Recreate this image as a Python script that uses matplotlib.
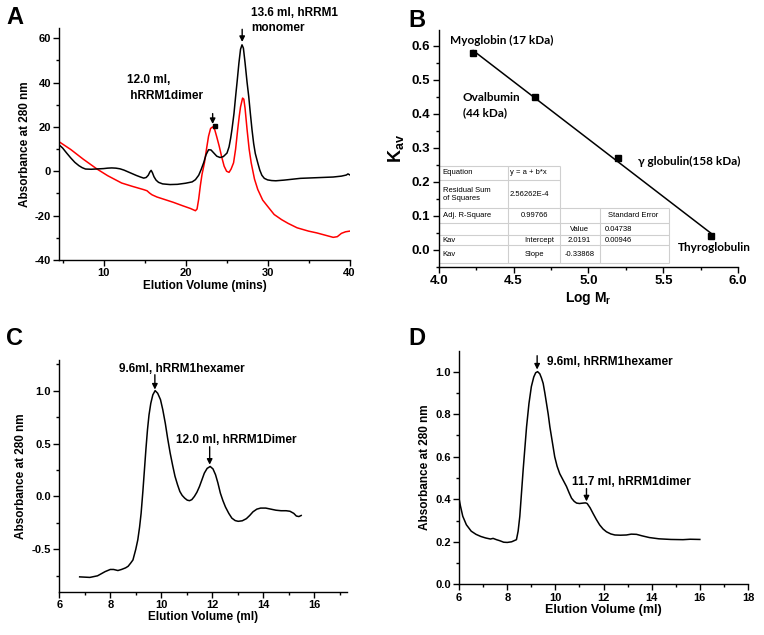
import matplotlib.pyplot as plt
from matplotlib.ticker import MultipleLocator

plt.rcParams['font.family'] = ['Liberation Sans', 'DejaVu Sans']
plt.rcParams['font.weight'] = 'bold'
plt.rcParams['axes.labelweight'] = 'bold'
plt.rcParams['axes.linewidth'] = 1.0
plt.rcParams['axes.unicode_minus'] = False
plt.rcParams['mathtext.fontset'] = 'custom'
plt.rcParams['mathtext.rm'] = 'Liberation Sans:bold'
plt.rcParams['mathtext.bf'] = 'Liberation Sans:bold'
plt.rcParams['mathtext.it'] = 'Liberation Sans:bold'

# --- panel A: two chromatograms (minutes)
a_black_x = [4.7, 5.0, 5.5, 6.0, 6.5, 7.0, 7.4, 7.8, 8.5, 9.0, 10.0, 10.5, 11.0, 11.5,
             12.0, 12.5, 13.0, 13.5, 14.0, 14.5, 14.9, 15.2, 15.45, 15.65, 15.8, 15.95,
             16.15, 16.4, 16.7, 17.2, 18.1, 19.0, 20.0, 20.8, 21.2, 21.6, 21.9, 22.2,
             22.5, 22.8, 23.1, 23.4, 23.8, 24.2, 24.6, 25.05, 25.3, 25.5, 25.65, 25.9,
             26.1, 26.3, 26.5, 26.7, 26.88, 27.05, 27.25, 27.5, 27.7, 27.9, 28.1, 28.3,
             28.5, 28.8, 29.05, 29.3, 29.6, 30.0, 30.5, 31.0, 32.0, 34.0, 36.0, 38.0,
             39.0, 39.6, 39.8, 40.0]
a_black_y = [11.5, 10.5, 8.2, 6.0, 4.0, 2.5, 1.6, 1.0, 0.9, 1.0, 1.2, 1.4, 1.5, 1.4,
             1.1, 0.5, -0.3, -1.1, -1.9, -2.6, -3.1, -2.8, -1.8, -0.3, 0.4, -0.6,
             -2.5, -4.0, -5.0, -5.7, -6.0, -5.9, -5.4, -4.8, -3.8, -1.8, 0.8, 3.8,
             7.5, 9.7, 9.6, 8.4, 6.8, 6.2, 6.6, 8.2, 11.0, 15.0, 18.7, 26.0,
             33.7, 41.0, 48.7, 55.0, 57.0, 55.5, 49.0, 40.0, 33.7, 26.0, 18.7, 12.5,
             8.0, 3.8, 0.5, -1.8, -3.2, -3.9, -4.2, -4.3, -4.0, -3.2, -2.9, -2.6,
             -2.2, -1.7, -1.2, -1.6]
a_red_x = [4.7, 6.0, 7.5, 9.2, 10.5, 12.2, 13.5, 14.9, 15.3, 15.6, 15.9, 16.5, 17.5,
           18.5, 19.6, 20.6, 21.2, 21.4, 21.6, 21.8, 22.0, 22.3, 22.55, 22.8, 23.05,
           23.3, 23.55, 23.8, 24.1, 24.4, 24.7, 25.0, 25.3, 25.55, 25.85, 26.1, 26.35,
           26.55, 26.7, 26.95, 27.1, 27.25, 27.5, 27.75, 28.0, 28.4, 28.8, 29.4, 30.0,
           30.8, 31.7, 32.5, 33.6, 35.0, 36.0, 37.0, 38.0, 38.5, 39.0, 39.5, 40.0]
a_red_y = [13.0, 9.8, 5.5, 1.0, -2.0, -5.3, -6.8, -8.3, -8.8, -9.8, -10.6, -11.6, -12.8,
           -14.0, -15.5, -16.8, -17.8, -17.0, -12.5, -6.5, -1.5, 3.8, 10.0, 15.8, 19.3,
           20.0, 18.8, 15.5, 11.3, 6.5, 2.3, 0.0, -0.5, 1.0, 3.8, 10.0, 18.7,
           25.0, 29.0, 33.0, 32.5, 28.5, 18.7, 10.0, 3.8, -3.5, -8.2, -13.0, -15.8,
           -19.5, -21.8, -23.5, -25.5, -27.0, -27.8, -28.8, -29.8, -29.5, -28.0, -27.3, -27.0]

# --- panel B: calibration standards
b_logmr = [4.23, 4.64, 5.20, 5.82]
b_kav = [0.58, 0.45, 0.27, 0.04]
b_names = ['Myoglobin (17 kDa)', 'Ovalbumin\n(44 kDa)', '\u03b3 globulin(158 kDa)', 'Thyroglobulin']
b_intercept = 2.0191
b_slope = -0.33868

# --- panel C
c_x = [6.8, 7.2, 7.5, 7.8, 8.0, 8.13, 8.3, 8.44, 8.6, 8.7, 8.8, 8.89, 9.0, 9.08, 9.15,
       9.21, 9.28, 9.34, 9.40, 9.46, 9.52, 9.59, 9.67, 9.76, 9.86, 9.97, 10.06, 10.16,
       10.25, 10.35, 10.45, 10.54, 10.64, 10.73, 10.82, 10.92, 11.02, 11.11, 11.2, 11.3,
       11.4, 11.5, 11.6, 11.69, 11.8, 11.92, 12.03, 12.13, 12.22, 12.32, 12.42, 12.52,
       12.65, 12.77, 12.9, 13.02, 13.18, 13.34, 13.47, 13.6, 13.75, 13.9, 14.1, 14.3,
       14.5, 14.7, 14.9, 15.05, 15.2, 15.3, 15.4, 15.49]
c_y = [-0.76, -0.765, -0.75, -0.71, -0.69, -0.69, -0.70, -0.69, -0.675, -0.66, -0.63,
       -0.60, -0.50, -0.41, -0.29, -0.16, 0.05, 0.25, 0.45, 0.63, 0.77, 0.88, 0.96, 1.0,
       0.975, 0.915, 0.82, 0.69, 0.55, 0.41, 0.29, 0.19, 0.11, 0.047, 0.01, -0.016,
       -0.035, -0.04, -0.03, 0.0, 0.04, 0.094, 0.16, 0.22, 0.265, 0.283, 0.26, 0.205,
       0.13, 0.031, -0.04, -0.10, -0.16, -0.205, -0.228, -0.235, -0.23, -0.21, -0.18,
       -0.145, -0.12, -0.11, -0.11, -0.12, -0.13, -0.135, -0.135, -0.14, -0.16, -0.185,
       -0.19, -0.18]

# --- panel D
d_x = [6.0, 6.05, 6.15, 6.3, 6.5, 6.7, 6.9, 7.1, 7.3, 7.41, 7.55, 7.69, 7.85, 8.0,
       8.18, 8.28, 8.38, 8.45, 8.52, 8.59, 8.66, 8.73, 8.80, 8.9, 9.0, 9.1, 9.18, 9.26,
       9.35, 9.42, 9.49, 9.56, 9.63, 9.70, 9.77, 9.87, 9.97, 10.07, 10.18, 10.32,
       10.46, 10.57, 10.67, 10.78, 10.88, 11.0, 11.15, 11.25, 11.32, 11.44, 11.56,
       11.7, 11.84, 11.98, 12.12, 12.3, 12.47, 12.7, 12.95, 13.15, 13.37, 13.6, 13.9,
       14.3, 14.8, 15.3, 15.6, 16.0]
d_y = [0.40, 0.37, 0.32, 0.28, 0.25, 0.235, 0.225, 0.218, 0.213, 0.216, 0.21, 0.205,
       0.198, 0.197, 0.20, 0.205, 0.21, 0.25, 0.32, 0.43, 0.54, 0.64, 0.74, 0.85, 0.93,
       0.975, 0.995, 1.0, 0.99, 0.97, 0.945, 0.90, 0.85, 0.80, 0.74, 0.67, 0.60, 0.555,
       0.52, 0.49, 0.46, 0.43, 0.405, 0.39, 0.382, 0.38, 0.382, 0.383, 0.38, 0.36,
       0.334, 0.305, 0.279, 0.26, 0.247, 0.237, 0.232, 0.231, 0.232, 0.236, 0.235,
       0.228, 0.22, 0.214, 0.211, 0.21, 0.212, 0.211]


def style(ax, xmaj, xmin, ymaj, ymin, size):
    ax.spines['top'].set_visible(False)
    ax.spines['right'].set_visible(False)
    ax.xaxis.set_major_locator(MultipleLocator(xmaj))
    ax.xaxis.set_minor_locator(MultipleLocator(xmin))
    ax.yaxis.set_major_locator(MultipleLocator(ymaj))
    ax.yaxis.set_minor_locator(MultipleLocator(ymin))
    ax.tick_params(which='major', direction='out', length=4, width=1, labelsize=size, pad=2)
    ax.tick_params(which='minor', direction='out', length=2.5, width=1)


def arrow(ax, x, y0, y1):
    ax.annotate('', xy=(x, y1), xytext=(x, y0),
                arrowprops=dict(arrowstyle='-|>', color='black', lw=1, mutation_scale=8,
                                shrinkA=0, shrinkB=0))


fig = plt.figure(figsize=(7.64, 6.35), dpi=100)

# A
axA = fig.add_axes([0.0776, 0.5906, 0.380, 0.365])
axA.plot(a_red_x, a_red_y, color='red', lw=1.1)
axA.plot(a_black_x, a_black_y, color='black', lw=1.1)
axA.set_xlim(4.6, 40)
axA.set_ylim(-40, 64.5)
style(axA, 10, 5, 20, 10, 8)
axA.set_xlabel('Elution Volume (mins)', fontsize=8.5, labelpad=1)
axA.set_ylabel('Absorbance at 280 nm', fontsize=8.5, labelpad=3)
arrow(axA, 23.3, 26.0, 21.3)
axA.plot([23.6], [20.5], marker='s', color='black', ms=3.5)
axA.text(12.9, 37.5, '12.0 ml,\n hRRM1dimer', fontsize=8.5, va='center', linespacing=1.4)
arrow(axA, 26.9, 64.0, 58.3)
axA.text(28.0, 68, '13.6 ml, hRRM1\nmonomer', fontsize=8.5, va='center', linespacing=1.3,
         clip_on=False)

# B
axB = fig.add_axes([0.5742, 0.580, 0.392, 0.3728])
fit_x = [b_logmr[0], b_logmr[-1]]
fit_y = [b_intercept + b_slope * v for v in fit_x]
axB.plot(fit_x, fit_y, color='black', lw=1.1)
axB.plot(b_logmr, b_kav, 's', color='black', ms=4)
axB.set_xlim(4.0, 6.0)
axB.set_ylim(-0.05, 0.647)
style(axB, 0.5, 0.25, 0.1, 0.05, 9.5)
axB.set_xlabel(r'Log M$_\mathrm{r}$', fontsize=10, labelpad=2)
axB.set_ylabel(r'K$_\mathrm{av}$', fontsize=13, labelpad=4)
lab_font = dict(family=['Lato', 'DejaVu Sans'], fontsize=8.5, fontweight='bold')
axB.text(4.075, 0.616, b_names[0], va='center', **lab_font)
axB.text(4.16, 0.425, b_names[1], va='center', linespacing=1.5, **lab_font)
axB.text(5.33, 0.261, b_names[2], va='center', **lab_font)
axB.text(5.60, 0.008, b_names[3], va='center', **lab_font)

# fit summary table
gc = '#cfcfcf'
cols = [4.0, 4.462, 4.809, 5.075, 5.535]
rows = [0.246, 0.205, 0.122, 0.078, 0.042, 0.0127, -0.04]
axB.hlines(rows[:2], cols[0], cols[2], color=gc, lw=0.8)
axB.hlines(rows[2:], cols[0], cols[4], color=gc, lw=0.8)
axB.vlines([cols[1]], rows[-1], rows[0], color=gc, lw=0.8)
axB.vlines([cols[2]], rows[-1], rows[0], color=gc, lw=0.8)
axB.vlines([cols[3], cols[4]], rows[-1], rows[2], color=gc, lw=0.8)
tf = dict(fontsize=5.5, fontweight='normal', va='center')
axB.text(4.027, 0.226, 'Equation', **tf)
axB.text(4.475, 0.226, 'y = a + b*x', **tf)
axB.text(4.027, 0.163, 'Residual Sum\nof Squares', linespacing=1.1, **tf)
axB.text(4.475, 0.163, '2.56262E-4', **tf)
axB.text(4.027, 0.100, 'Adj. R-Square', **tf)
axB.text(4.64, 0.100, '0.99766', ha='center', **tf)
axB.text(5.30, 0.100, 'Standard Error', ha='center', **tf)
axB.text(4.94, 0.060, 'Value', ha='center', **tf)
axB.text(5.11, 0.060, '0.04738', **tf)
axB.text(4.027, 0.027, 'Kav', **tf)
axB.text(4.77, 0.027, 'Intercept', ha='right', **tf)
axB.text(4.94, 0.027, '2.0191', ha='center', **tf)
axB.text(5.11, 0.027, '0.00946', **tf)
axB.text(4.027, -0.014, 'Kav', **tf)
axB.text(4.64, -0.014, 'Slope', ha='center', **tf)
axB.text(4.94, -0.014, '-0.33868', ha='center', **tf)

# C
axC = fig.add_axes([0.0776, 0.0682, 0.377, 0.365])
axC.plot(c_x, c_y, color='black', lw=1.1)
axC.set_xlim(6, 17.3)
axC.set_ylim(-0.9, 1.29)
style(axC, 2, 1, 0.5, 0.25, 8)
axC.set_xlabel('Elution Volume (ml)', fontsize=8.5, labelpad=1)
axC.set_ylabel('Absorbance at 280 nm', fontsize=8.5, labelpad=3)
arrow(axC, 9.75, 1.15, 1.01)
axC.text(10.8, 1.2, '9.6ml, hRRM1hexamer', fontsize=8.5, ha='center', va='center')
arrow(axC, 11.9, 0.47, 0.30)
axC.text(12.95, 0.53, '12.0 ml, hRRM1Dimer', fontsize=8.5, ha='center', va='center')

# D
axD = fig.add_axes([0.601, 0.0798, 0.378, 0.3674])
axD.plot(d_x, d_y, color='black', lw=1.1)
axD.set_xlim(6, 18)
axD.set_ylim(0, 1.097)
style(axD, 2, 1, 0.2, 0.1, 8)
axD.set_xlabel('Elution Volume (ml)', fontsize=9, labelpad=1)
axD.set_ylabel('Absorbance at 280 nm', fontsize=8.5, labelpad=3)
arrow(axD, 9.24, 1.075, 1.01)
axD.text(9.63, 1.045, '9.6ml, hRRM1hexamer', fontsize=8.5, va='center')
arrow(axD, 11.29, 0.45, 0.39)
axD.text(13.16, 0.483, '11.7 ml, hRRM1dimer', fontsize=8.5, ha='center', va='center')

for lab, x, y in [('A', 0.008, 0.962), ('B', 0.535, 0.958), ('C', 0.008, 0.457), ('D', 0.535, 0.457)]:
    fig.text(x, y, lab, fontsize=17, fontweight='bold')

fig.savefig('out.png', dpi=100)
